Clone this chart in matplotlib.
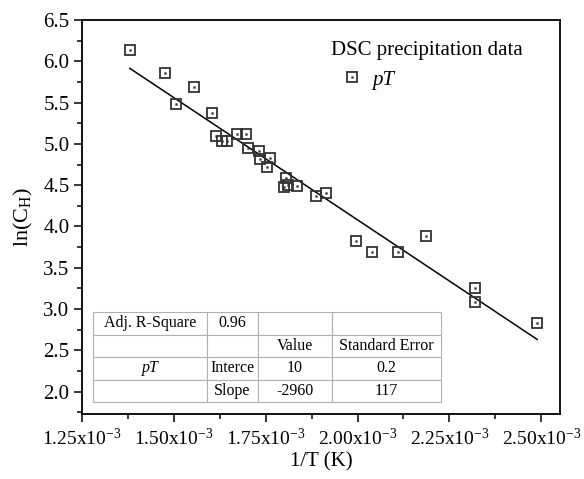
import matplotlib
matplotlib.use("Agg")
import matplotlib.pyplot as plt
from matplotlib.ticker import MultipleLocator, AutoMinorLocator, FuncFormatter
import numpy as np

plt.rcParams['font.family'] = ['Liberation Serif', 'DejaVu Serif']
plt.rcParams['mathtext.fontset'] = 'custom'
plt.rcParams['mathtext.rm'] = 'Liberation Serif'
plt.rcParams['mathtext.it'] = 'Liberation Serif:italic'
plt.rcParams['mathtext.bf'] = 'Liberation Serif:bold'

# Data: 1/T (1/K) and ln(C_H)
inv_T = np.array([1.380, 1.475, 1.505, 1.554, 1.604, 1.616, 1.631, 1.645, 1.672, 1.697,
                  1.701, 1.731, 1.735, 1.763, 1.754, 1.806, 1.801, 1.812, 1.834, 1.887,
                  1.914, 1.997, 2.038, 2.111, 2.186, 2.321, 2.319, 2.489]) * 1e-3
ln_CH = np.array([6.14, 5.86, 5.48, 5.69, 5.38, 5.09, 5.04, 5.04, 5.12, 5.12,
                  4.95, 4.91, 4.82, 4.83, 4.72, 4.59, 4.48, 4.50, 4.49, 4.37,
                  4.40, 3.83, 3.69, 3.69, 3.89, 3.26, 3.09, 2.83])

# Linear fit parameters (from the fit table)
intercept = 10.0
slope = -2960.0
adj_r2 = "0.96"
table_rows = [["Adj. R-Square", adj_r2, "", ""],
              ["", "", "Value", "Standard Error"],
              ["pT", "Interce", "10", "0.2"],
              ["", "Slope", "-2960", "117"]]

fig = plt.figure(figsize=(5.84, 4.79), dpi=100)
ax = fig.add_axes([82/584, 1-414/479, (560-82)/584, (414-20)/479])

mc = '#333333'
sq, = ax.plot(inv_T, ln_CH, ls='none', marker='s', ms=7, mfc='none', mec=mc, mew=1.3, zorder=3)
dot, = ax.plot(inv_T, ln_CH, ls='none', marker='s', ms=1.3, mfc=mc, mec=mc, mew=0.3, zorder=3)

xf = np.array([inv_T.min(), inv_T.max()])
ax.plot(xf, intercept + slope * xf, color='black', lw=1.1, zorder=2)

ax.set_xlim(1.25e-3, 2.551e-3)
ax.set_ylim(1.73, 6.5)
ax.xaxis.set_major_locator(MultipleLocator(0.25e-3))
ax.xaxis.set_minor_locator(AutoMinorLocator(2))
ax.yaxis.set_major_locator(MultipleLocator(0.5))
ax.yaxis.set_minor_locator(AutoMinorLocator(2))
ax.xaxis.set_major_formatter(FuncFormatter(lambda v, p: r"%.2fx10$^{-3}$" % (v * 1e3)))
ax.yaxis.set_major_formatter(FuncFormatter(lambda v, p: "%.1f" % v))

ax.tick_params(which='both', direction='out', top=False, right=False, width=1.1)
ax.tick_params(which='major', length=6)
ax.tick_params(which='minor', length=3.5)
ax.tick_params(axis='x', labelsize=14, pad=4)
ax.tick_params(axis='y', labelsize=15, pad=3)
for s in ax.spines.values():
    s.set_linewidth(1.3)

ax.set_xlabel("1/T (K)", fontsize=15, labelpad=2)
ax.set_ylabel(r"ln(C$_\mathrm{H}$)", fontsize=16, labelpad=6)

leg = ax.legend([(sq, dot)], ["pT"], title="DSC precipitation data",
                frameon=False, loc='upper left', bbox_to_anchor=(0.512, 0.958),
                prop={'size': 15, 'style': 'italic'}, title_fontproperties={'size': 15},
                alignment='left', handlelength=2.0, handletextpad=0.0, borderpad=0.2,
                borderaxespad=0.0)

col_px = np.array([114, 51, 74, 109], dtype=float)
tb = ax.table(cellText=table_rows, cellLoc='center',
              colWidths=list(col_px / col_px.sum()),
              bbox=[(93-82)/478, (414-402)/394, (441-93)/478, (402-312)/394])
tb.auto_set_font_size(False)
tb.set_fontsize(11.5)
for (r, c), cell in tb.get_celld().items():
    cell.set_edgecolor('#b0b0b0')
    cell.set_linewidth(0.8)
    cell.set_facecolor('white')
    if r == 2 and c == 0:
        cell.get_text().set_fontstyle('italic')

fig.savefig("out.png", dpi=100)
